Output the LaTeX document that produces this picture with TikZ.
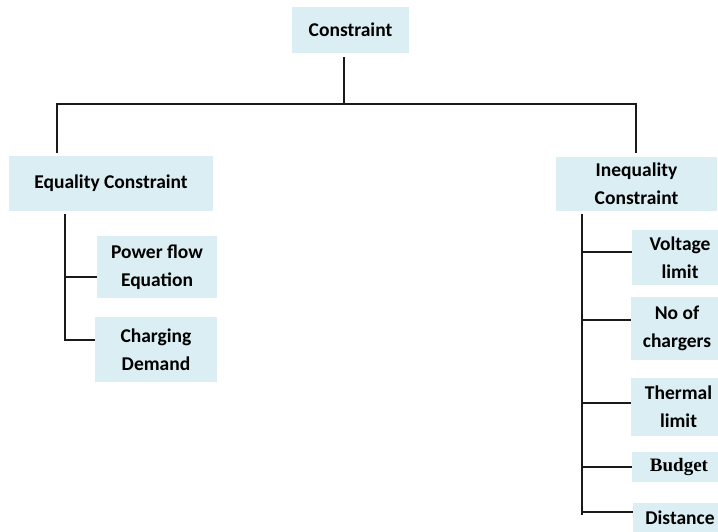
\documentclass[tikz,border=0pt]{standalone}
\usepackage{fontspec}
\setmainfont{Carlito}
\newfontfamily\serifbold{Liberation Serif}
\definecolor{boxfill}{HTML}{DAEEF3}
\definecolor{wire}{HTML}{1A1A1A}
\begin{document}
\begin{tikzpicture}[x=1pt,y=-1pt,
  cbox/.style={fill=boxfill, draw=none, inner sep=0pt, align=center,
    font=\fontsize{19.5}{28}\selectfont\bfseries},
  wireline/.style={draw=wire, line width=1.4pt}]
\useasboundingbox (0,0) rectangle (718,532);

% boxes
\node[cbox, minimum width=117, minimum height=46] (root) at (350.5,30) {Constraint};
\node[cbox, minimum width=204, minimum height=55] (eq) at (111,183.5) {Equality Constraint};
\node[cbox, minimum width=161, minimum height=54] (ineq) at (636.5,184) {Inequality\\Constraint};

\node[cbox, minimum width=120, minimum height=62] (pf) at (157,267) {Power flow\\Equation};
\node[cbox, minimum width=122, minimum height=65] (ch) at (156,349.5) {Charging\\Demand};

% right column boxes run past the right edge
\node[cbox, minimum width=96, minimum height=55] (volt) at (680,257.5) {Voltage\\limit};
\node[cbox, minimum width=92, minimum height=63] (chg) at (677,328.5) {No of\\chargers};
\node[cbox, minimum width=95, minimum height=58] (therm) at (678.5,407) {Thermal\\limit};
\node[cbox, minimum width=94, minimum height=30,
  font=\fontsize{19}{28}\selectfont\serifbold\bfseries] (bud) at (679,467) {Budget};
\node[cbox, minimum width=94, minimum height=30] (dist) at (680,518) {Distance};

% top level split
\coordinate (rootB) at (344,57);
\coordinate (hub) at (344,104);
\coordinate (eqIn) at (57,153);
\coordinate (ineqIn) at (636,153);
\draw[wireline] (rootB) -- (hub);
\draw[wireline] (eqIn) |- (hub) -| (ineqIn);

% equality branch
\coordinate (eqT) at (65,214);
\coordinate (pfJ) at (65,277);
\coordinate (chJ) at (65,340);
\draw[wireline] (eqT) -- (chJ) -- (chJ -| ch.west);
\draw[wireline] (pfJ) -- (pfJ -| pf.west);

% inequality branch
\coordinate (inT) at (582,214);
\coordinate (inB) at (582,515);
\coordinate (voltJ) at (582,252);
\coordinate (chgJ) at (582,320);
\coordinate (thermJ) at (582,403);
\coordinate (budJ) at (582,467);
\coordinate (distJ) at (582,512);
\draw[wireline] (inT) -- (inB);
\draw[wireline] (voltJ) -- (voltJ -| volt.west);
\draw[wireline] (chgJ) -- (chgJ -| chg.west);
\draw[wireline] (thermJ) -- (thermJ -| therm.west);
\draw[wireline] (budJ) -- (budJ -| bud.west);
\draw[wireline] (distJ) -- (distJ -| dist.west);
\end{tikzpicture}
\end{document}
